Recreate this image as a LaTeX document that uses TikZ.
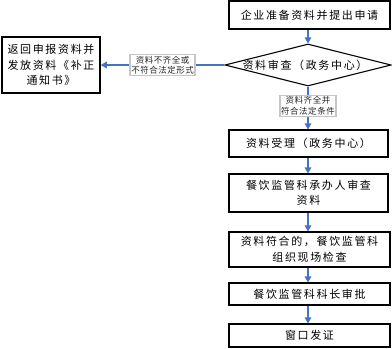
\documentclass[tikz,border=0pt]{standalone}
\usepackage{fontspec}
\newfontfamily\cjk[LetterSpace=15]{Noto Sans CJK SC}
\newfontfamily\cjksmall[LetterSpace=6]{Noto Sans CJK SC}
\usetikzlibrary{arrows.meta,shapes.geometric}
\definecolor{arrowblue}{RGB}{68,114,196}
\begin{document}
\begin{tikzpicture}[x=1pt,y=-1pt,
  box/.style={draw, line width=1.1pt, align=center, inner sep=0pt,
    font=\cjk\fontsize{11}{15.5}\selectfont},
  conn/.style={draw=arrowblue, line width=1.3pt, -{Triangle[length=6pt,width=6.5pt]}},
  lbl/.style={draw=gray!45, fill=white, align=center, inner sep=1.2pt,
    font=\cjksmall\fontsize{8.5}{10.5}\selectfont, text=black!85}]
\useasboundingbox (0,0) rectangle (392,349);
\node[box, line width=1.5pt, minimum width=161pt, minimum height=28pt] (apply) at (309.5,15) {企业准备资料并提出申请};
\node[diamond, draw, line width=1.1pt, minimum width=166pt, minimum height=42pt, inner sep=0pt] (check) at (308,65) {};
\node[font=\cjk\fontsize{11}{15.5}\selectfont, inner sep=0pt] (checktext) at (305,65) {资料审查（政务中心）};
\node[box, line width=1.5pt, minimum width=98pt, minimum height=56pt] (ret) at (51,65) {返回申报资料并\\发放资料《补正\\通知书》};
\node[box, minimum width=159pt, minimum height=27pt] (accept) at (308.5,143.5) {资料受理（政务中心）};
\node[box, minimum width=159pt, minimum height=38pt] (review) at (308.5,193) {餐饮监管科承办人审查\\资料};
\node[box, minimum width=161pt, minimum height=35pt] (site) at (309.5,249.5) {资料符合的，餐饮监管科\\组织现场检查};
\node[box, minimum width=161pt, minimum height=22pt] (chief) at (309.5,294) {餐饮监管科科长审批};
\node[box, minimum width=161pt, minimum height=23pt] (issue) at (309.5,335.5) {窗口发证};
\draw[conn] (apply.south -| check.north) -- (check.north);
\draw[conn] (check.west) -- node[lbl] {资料不齐全或\\不符合法定形式} (ret.east);
\draw[conn] (check.south) -- node[lbl, pos=0.45] {资料齐全并\\符合法定条件} (accept.north -| check.south);
\draw[conn] (accept.south -| check.south) -- (review.north -| check.south);
\draw[conn] (review.south -| check.south) -- (site.north -| check.south);
\draw[conn] (site.south -| check.south) -- (chief.north -| check.south);
\draw[conn] (chief.south -| check.south) -- (issue.north -| check.south);
\end{tikzpicture}
\end{document}
